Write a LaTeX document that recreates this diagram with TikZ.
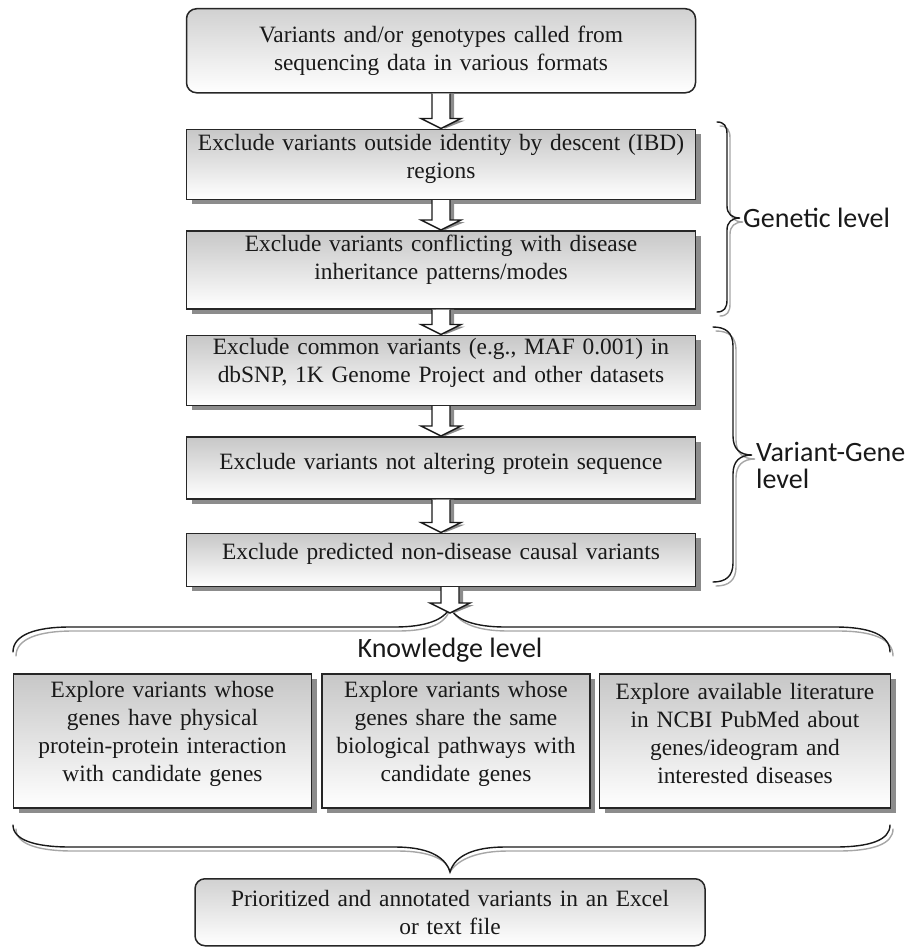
\documentclass[tikz,border=0pt]{standalone}
\usepackage{fontspec}
\setmainfont{Liberation Serif}
\newfontfamily\lvlfont{Carlito}
\usepackage{tikz}
\usetikzlibrary{positioning,calc,shadows}

% extra room below the text of a box
\newcommand\liftgap[1]{\par\vspace*{#1}}

% hollow block arrow with a grey shadow, from #1 down to #2
\newcommand\hollowarrow[2]{%
  \fill[black!45] let \p1=(#1), \p2=(#2) in
    (\x1-5pt,\y1) -- (\x1-5pt,\y2+8pt) -- (\x1-16pt,\y2+8pt) -- (\x1+4pt,\y2)
    -- (\x1+24pt,\y2+8pt) -- (\x1+13pt,\y2+8pt) -- (\x1+13pt,\y1) -- cycle;
  \draw[arrowline] let \p1=(#1), \p2=(#2) in
    (\x1-9pt,\y1) -- (\x1-9pt,\y2+10pt) -- (\x1-20pt,\y2+10pt) -- (\x1,\y2)
    -- (\x1+20pt,\y2+10pt) -- (\x1+9pt,\y2+10pt) -- (\x1+9pt,\y1);
}

\begin{document}
\begin{tikzpicture}[
  x=1pt, y=-1pt,
  font=\fontsize{23.4}{28}\selectfont,
  flow/.style={draw=black!85, line width=1.5pt, top color=black!22, bottom color=white,
               text width=495pt, inner xsep=7pt, inner ysep=2pt, align=center, text=black!90,
               minimum height=#1,
               drop shadow={shadow xshift=5pt, shadow yshift=-5pt, fill=black!45, opacity=1}},
  kbox/.style={flow=134pt, text width=#1},
  ends/.style={draw=black!85, line width=1.5pt, rounded corners=10pt, top color=black!18,
               bottom color=white, text width=#1, inner xsep=7pt, inner ysep=2pt,
               align=center, text=black!90},
  lift/.style={execute at end node={\liftgap{#1}}},
  lvl/.style={font=\lvlfont\fontsize{28}{27}\selectfont, inner sep=0pt, text=black!90},
  bracepen/.style={line width=1.4pt, line cap=round},
  arrowline/.style={draw=black!90, line width=1.4pt, fill=white, line join=miter},
  node distance=30pt,
]
\useasboundingbox (0,0) rectangle (912,950);

% filtering steps
\node[ends=495pt, minimum height=84pt, anchor=north] (src) at (441,8)
  {Variants and/or genotypes called from\\sequencing data in various formats};
\node[flow=70pt, lift=10pt, below=35pt of src] (ibd)
  {Exclude variants outside identity by descent (IBD)\\regions};
\node[flow=78pt, lift=20pt, below=30pt of ibd] (mode)
  {Exclude variants conflicting with disease\\inheritance patterns/modes};
\node[flow=70pt, lift=14pt, below=25pt of mode] (maf)
  {Exclude common variants (e.g., MAF 0.001) in\\dbSNP, 1K Genome Project and other datasets};
\node[flow=62pt, lift=8pt, below=30pt of maf] (prot)
  {Exclude variants not altering protein sequence};
\node[flow=53pt, lift=12pt, below=33pt of prot] (pred)
  {Exclude predicted non-disease causal variants};

\coordinate (ktip) at (450,607);
\coordinate (ltip) at (450,872);

% knowledge level
\node[lvl, anchor=base] (know) at (450,657) {Knowledge level};
\node[kbox=254pt, lift=14pt, anchor=north] (path) at (456,673)
  {Explore variants whose\\genes share the same\\biological pathways with\\candidate genes};
\node[kbox=284pt, lift=14pt, left=9pt of path] (ppi)
  {Explore variants whose\\genes have physical\\protein-protein interaction\\with candidate genes};
\node[kbox=277pt, lift=14pt, right=8pt of path] (lit)
  {Explore available literature\\in NCBI PubMed about\\genes/ideogram and\\interested diseases};
\node[ends=496pt, minimum height=67pt, below=6pt of ltip] (out)
  {Prioritized and annotated variants in an Excel\\or text file};

% level labels
\node[lvl, anchor=base west] (gen) at (743,227) {Genetic level};
\node[lvl, anchor=north west, align=left] (vg) at (756,442) {Variant-Gene\\level};

% braces, grey copy first
\foreach \pen/\dx/\dy in {black!35/3/4, black!90/0/0} {
  \draw[bracepen, draw=\pen, shift={(\dx,\dy)}]
    (717,122) .. controls (724,122) and (727,126) .. (727,134) -- (727,206)
    .. controls (727,214) and (732,218) .. (740,218)
    .. controls (732,218) and (727,222) .. (727,230) -- (727,300)
    .. controls (727,308) and (724,312) .. (717,312);
  \draw[bracepen, draw=\pen, shift={(\dx,\dy)}]
    (713,327) .. controls (726,327) and (733,333) .. (733,346) -- (733,436)
    .. controls (733,449) and (740,455) .. (752,455)
    .. controls (740,455) and (733,461) .. (733,474) -- (733,563)
    .. controls (733,576) and (726,582) .. (713,582);
  \draw[bracepen, draw=\pen, shift={(\dx,\dy)}]
    (13,652) .. controls (13,635) and (35,627) .. (70,627) -- (395,627)
    .. controls (425,627) and (445,620) .. (ktip)
    .. controls (455,620) and (475,627) .. (505,627) -- (835,627)
    .. controls (870,627) and (890,635) .. (890,652);
  \draw[bracepen, draw=\pen, shift={(\dx,\dy)}]
    (13,825) .. controls (13,840) and (35,847) .. (70,847) -- (395,847)
    .. controls (425,847) and (445,855) .. (ltip)
    .. controls (455,855) and (475,847) .. (505,847) -- (835,847)
    .. controls (870,847) and (890,840) .. (890,825);
}

% block arrows
\hollowarrow{src.south}{ibd.north}
\hollowarrow{ibd.south}{mode.north}
\hollowarrow{mode.south}{maf.north}
\hollowarrow{maf.south}{prot.north}
\hollowarrow{prot.south}{pred.north}
\hollowarrow{pred.south -| ktip}{[yshift=-6pt]ktip}
\end{tikzpicture}
\end{document}
